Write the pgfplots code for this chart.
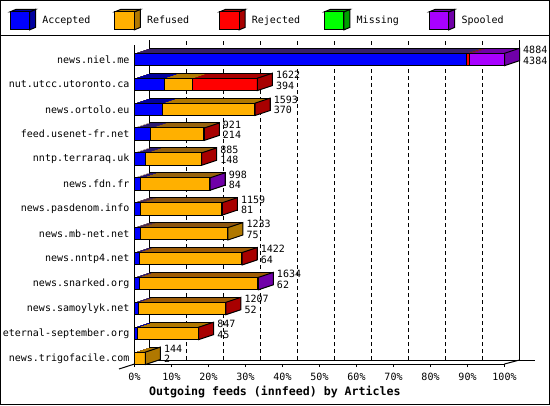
\documentclass[border=0pt]{standalone}
\usepackage{fontspec}
\setmainfont{DejaVu Sans Mono}
\usepackage{pgfplots}
\usepackage{pgfplotstable}
\pgfplotsset{compat=1.18}

\definecolor{accF}{RGB}{0,0,255}
\definecolor{accD}{RGB}{0,0,160}
\definecolor{refF}{RGB}{255,176,0}
\definecolor{refD}{RGB}{176,120,0}
\definecolor{rejF}{RGB}{255,0,0}
\definecolor{rejD}{RGB}{168,0,0}
\definecolor{misF}{RGB}{0,255,0}
\definecolor{misD}{RGB}{0,160,0}
\definecolor{spoF}{RGB}{168,0,255}
\definecolor{spoD}{RGB}{112,0,168}

\newcommand\sm{\fontsize{10bp}{10.5bp}\selectfont}

% articles per peer; pos 12 = top row
\pgfplotstableread{
pos acc ref rej mis spo tot last
12 4384 0 35 0 465 4884 p
11 394 369 859 0 0 1622 r
10 370 1218 5 0 0 1593 r
9 214 697 10 0 0 921 r
8 148 730 7 0 0 885 r
7 84 904 0 0 10 998 p
6 81 1065 13 0 0 1159 r
5 75 1158 0 0 0 1233 o
4 64 1351 7 0 0 1422 r
3 62 1557 0 0 15 1634 p
2 52 1150 5 0 0 1207 r
1 45 797 5 0 0 847 r
0 2 142 0 0 0 144 o
}\feeds

% right face of a 3D bar
\pgfdeclareplotmark{side}{%
  \pgfpathmoveto{\pgfqpoint{0bp}{-6.2bp}}%
  \pgfpathlineto{\pgfqpoint{15bp}{-1.2bp}}%
  \pgfpathlineto{\pgfqpoint{15bp}{11.2bp}}%
  \pgfpathlineto{\pgfqpoint{0bp}{6.2bp}}%
  \pgfpathclose
  \pgfusepathqfillstroke}

\newcommand\legcube[2]{%
  \path (0bp,-11.5bp) (0bp,11.5bp);
  \draw[line width=1bp,fill=#2] (19.5bp,9bp) -- (25.5bp,11.5bp) -- (25.5bp,-6.5bp) -- (19.5bp,-9bp) -- cycle;
  \draw[line width=1bp,fill=#2] (0bp,9bp) -- (6bp,11.5bp) -- (25.5bp,11.5bp) -- (19.5bp,9bp) -- cycle;
  \draw[line width=1bp,fill=#1] (0bp,-9bp) rectangle (19.5bp,9bp);
}

\pgfplotsset{
  bar3d/.style={xbar, bar shift=0pt, bar width=12.4bp, forget plot},
}

% one step of the top face: shifted copies, dark colours
\newcommand\shadow[2]{%
  \addplot[bar3d, fill=spoD, draw=none, xshift=#1, yshift=#2] table[x=tot, y=pos]{\feeds};
  \addplot[bar3d, fill=misD, draw=none, xshift=#1, yshift=#2] table[x expr=\thisrow{acc}+\thisrow{ref}+\thisrow{rej}+\thisrow{mis}, y=pos]{\feeds};
  \addplot[bar3d, fill=rejD, draw=none, xshift=#1, yshift=#2] table[x expr=\thisrow{acc}+\thisrow{ref}+\thisrow{rej}, y=pos]{\feeds};
  \addplot[bar3d, fill=refD, draw=none, xshift=#1, yshift=#2] table[x expr=\thisrow{acc}+\thisrow{ref}, y=pos]{\feeds};
  \addplot[bar3d, fill=accD, draw=none, xshift=#1, yshift=#2] table[x=acc, y=pos]{\feeds};
}

\begin{document}
\begin{tikzpicture}[x=1bp,y=1bp]
\path[use as bounding box] (0,0) rectangle (550,405);
\draw[line width=1bp] (0.5,0.5) rectangle (549.5,404.5);
\draw[line width=1bp] (0,370) -- (550,370);
% back wall and floor
\draw[line width=1bp] (149.5,45) -- (149.5,365);
\draw[line width=1bp] (519.5,45) -- (519.5,365);
\draw[line width=1bp] (134.5,45) -- (535,45);
\draw[line width=1bp] (504.5,41) -- (519.5,45);
\draw[line width=1bp] (119,36) -- (134.5,41);

\begin{axis}[
  at={(134.5bp,41bp)}, anchor=south west,
  scale only axis, width=370bp, height=319.4bp,
  xmin=0, xmax=4884, ymin=-0.229, ymax=12.598,
  clip=false,
  axis x line*=bottom, axis y line*=left,
  axis line style={line width=1bp, black},
  xtick={0,488.4,976.8,1465.2,1953.6,2442,2930.4,3418.8,3907.2,4395.6,4884},
  xticklabels={0\%,10\%,20\%,30\%,40\%,50\%,60\%,70\%,80\%,90\%,100\%},
  ytick={0,...,12},
  yticklabels={news.trigofacile.com,eternal-september.org,news.samoylyk.net,news.snarked.org,news.nntp4.net,news.mb-net.net,news.pasdenom.info,news.fdn.fr,nntp.terraraq.uk,feed.usenet-fr.net,news.ortolo.eu,nut.utcc.utoronto.ca,news.niel.me},
  tick align=outside, major tick length=3bp,
  xtick style={black, line width=1bp},
  ytick style={draw=none},
  xticklabel style={font=\sm, inner sep=0pt, yshift=-6bp},
  yticklabel style={font=\sm, inner sep=0pt, anchor=east, xshift=-2bp},
  xmajorgrids,
  major grid style={black, line width=1bp, dash pattern=on 4bp off 3bp, xshift=15bp, yshift=4bp},
  xlabel={Outgoing feeds (innfeed) by Articles},
  xlabel style={font=\fontsize{11.6bp}{12bp}\selectfont\bfseries, at={(axis description cs:0.0392,-0.0867)}, anchor=west, inner sep=0pt},
  legend columns=5,
  legend cell align=left,
  legend style={draw=none, fill=none, inner sep=0pt, outer sep=0pt, font=\sm,
    at={(axis description cs:-0.3378,1.0747)}, anchor=west,
    nodes={inner sep=0pt},
    /tikz/every odd column/.append style={column sep=6.3bp}},
]
% top faces, back to front
\shadow{15bp}{5bp}
\addplot[bar3d, fill=none, draw=black, line width=1bp, xshift=15bp, yshift=5bp] table[x=tot, y=pos]{\feeds};
\shadow{12bp}{4bp}
\shadow{9bp}{3bp}
\shadow{6bp}{2bp}
\shadow{3bp}{1bp}
% right faces
\addplot[scatter, only marks, forget plot, line width=1bp,
  scatter src=explicit symbolic,
  scatter/classes={
    r={mark=side, draw=black, fill=rejD},
    p={mark=side, draw=black, fill=spoD},
    o={mark=side, draw=black, fill=refD}}]
  table[x=tot, y=pos, meta=last]{\feeds};
% front faces
\addplot[bar3d, fill=spoF, draw=black, line width=1bp] table[x=tot, y=pos]{\feeds};
\addplot[bar3d, fill=misF, draw=black, line width=1bp] table[x expr=\thisrow{acc}+\thisrow{ref}+\thisrow{rej}+\thisrow{mis}, y=pos]{\feeds};
\addplot[bar3d, fill=rejF, draw=black, line width=1bp] table[x expr=\thisrow{acc}+\thisrow{ref}+\thisrow{rej}, y=pos]{\feeds};
\addplot[bar3d, fill=refF, draw=black, line width=1bp] table[x expr=\thisrow{acc}+\thisrow{ref}, y=pos]{\feeds};
\addplot[bar3d, fill=accF, draw=black, line width=1bp] table[x=acc, y=pos]{\feeds};
% offered / accepted labels
\addplot[mark=none, draw=none, forget plot,
  point meta=explicit symbolic,
  visualization depends on={\thisrow{acc}\as\vacc},
  nodes near coords={\pgfplotspointmeta\\\pgfmathprintnumber[fixed,precision=0,1000 sep={},assume math mode=true]{\vacc}},
  nodes near coords style={anchor=west, align=left, font=\sm, inner sep=0pt, xshift=18.5bp, yshift=4.2bp, black}]
  table[x=tot, y=pos, meta=tot]{\feeds};

\addlegendimage{legend image code/.code={\legcube{accF}{accD}}}
\addlegendentry{\makebox[72bp][l]{Accepted}}
\addlegendimage{legend image code/.code={\legcube{refF}{refD}}}
\addlegendentry{\makebox[72bp][l]{Refused}}
\addlegendimage{legend image code/.code={\legcube{rejF}{rejD}}}
\addlegendentry{\makebox[72bp][l]{Rejected}}
\addlegendimage{legend image code/.code={\legcube{misF}{misD}}}
\addlegendentry{\makebox[72bp][l]{Missing}}
\addlegendimage{legend image code/.code={\legcube{spoF}{spoD}}}
\addlegendentry{\makebox[72bp][l]{Spooled}}
\end{axis}
\end{tikzpicture}
\end{document}
